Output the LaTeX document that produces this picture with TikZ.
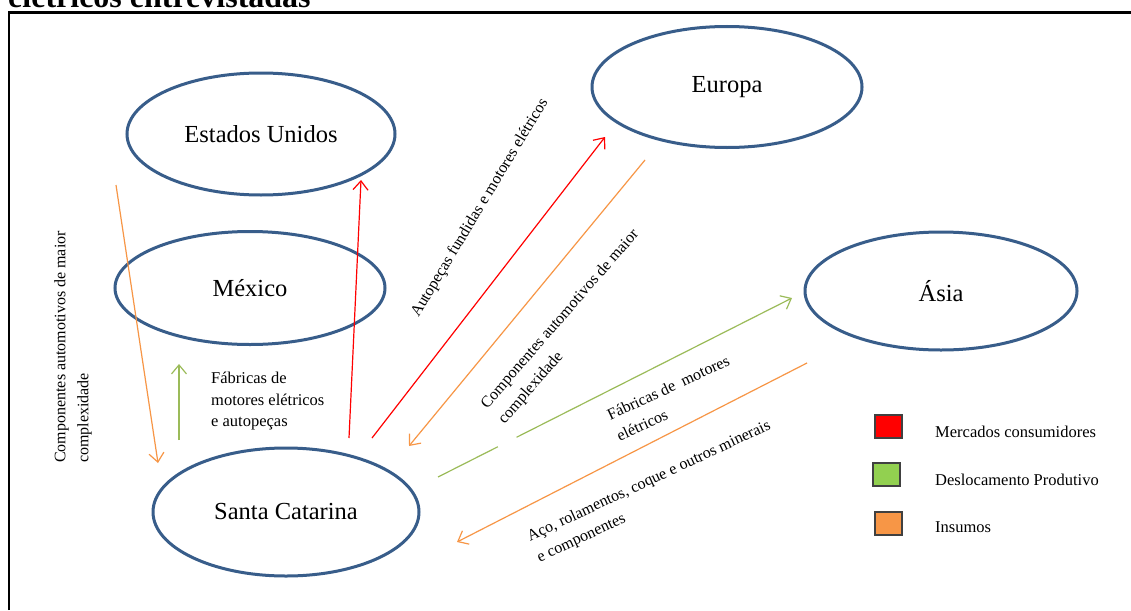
\documentclass[tikz,border=0pt]{standalone}
\usepackage{fontspec}
\setmainfont{Liberation Serif}
\usetikzlibrary{shapes.geometric,arrows.meta}
\definecolor{ellblue}{HTML}{385D8A}
\definecolor{ored}{HTML}{FF0000}
\definecolor{ogreen}{HTML}{9BBB59}
\definecolor{oorange}{HTML}{F79646}
\definecolor{lgreen}{HTML}{92D050}
\begin{document}
\begin{tikzpicture}[x=1pt,y=-1pt,
  place/.style={ellipse, draw=ellblue, line width=3pt, inner sep=0pt, font=\fontsize{24.5}{28}\selectfont},
  lbl/.style={font=\fontsize{16}{23}\selectfont, align=left, inner sep=0pt},
  flow/.style={line width=1.2pt, -{Straight Barb[length=9pt,width=15pt]}},
  legbox/.style={draw=black!75, line width=1.5pt, minimum width=27pt, minimum height=23pt, inner sep=0pt},
  legtext/.style={anchor=west, inner sep=0pt, font=\fontsize{16.5}{19}\selectfont}]
\useasboundingbox (0,0) rectangle (1131,610);
\clip (0,0) rectangle (1131,610);
\fill[white] (0,0) rectangle (1131,610);
% title (cut off)
\node[anchor=base west, inner sep=0pt, font=\bfseries\fontsize{32}{36}\selectfont] (title) at (8,7.5) {elétricos entrevistadas};
% frame
\coordinate (fr1) at (9,610);
\coordinate (fr2) at (9,12.5);
\coordinate (fr3) at (1131,12.5);
\draw[line width=2.5pt] (fr1) -- (fr2) -- (fr3);
% places
\node[place, minimum width=268pt, minimum height=122pt] (eua) at (261,134) {Estados Unidos};
\node[place, minimum width=270pt, minimum height=113pt] (mex) at (250,288) {México};
\node[place, minimum width=270pt, minimum height=121pt] (eur) at (727,87) {Europa};
\node[place, minimum width=272pt, minimum height=118pt] (asia) at (941,291) {Ásia};
\node[place, minimum width=266pt, minimum height=128pt] (sc) at (286,512) {Santa Catarina};
% arrow end points
\coordinate (c1s) at (116,185);  \coordinate (c1e) at (158,463);
\coordinate (g1s) at (179,440);  \coordinate (g1e) at (179,364);
\coordinate (r1s) at (349,438);  \coordinate (r1e) at (361,180);
\coordinate (r2s) at (372,438);  \coordinate (r2e) at (605,137);
\coordinate (o2s) at (645,160);  \coordinate (o2e) at (409,446);
\coordinate (g2s) at (438,477);  \coordinate (g2e) at (792,298);
\coordinate (o3s) at (807,363);  \coordinate (o3e) at (457,542);
\draw[flow, oorange] (c1s) -- (c1e);
\draw[flow, ogreen] (g1s) -- (g1e);
\draw[flow, ored] (r1s) -- (r1e);
\draw[flow, ored] (r2s) -- (r2e);
\draw[flow, oorange] (o2s) -- (o2e);
\draw[flow, ogreen, dash pattern=on 67pt off 21pt on 500pt] (g2s) -- (g2e);
\draw[flow, oorange] (o3s) -- (o3e);
% labels
\node[lbl, rotate=90] (lab1) at (73,347) {Componentes automotivos de maior\\complexidade};
\node[lbl, anchor=north west, font=\fontsize{16.5}{21.5}\selectfont] (lab2) at (211,372) {Fábricas de\\motores elétricos\\e autopeças};
\node[lbl, rotate=59] (lab3) at (480,208) {Autopeças fundidas e motores elétricos};
\node[lbl, rotate=49] (lab4) at (569,327) {Componentes automotivos de maior\\complexidade};
\node[lbl, rotate=25] (lab5) at (673,398) {Fábricas de\ \ motores\\elétricos};
\node[lbl, rotate=25] (lab6) at (654,492) {Aço, rolamentos, coque e outros minerais\\e componentes};
% legend
\node[legbox, fill=ored] (lr) at (888.5,426.5) {};
\node[legbox, fill=lgreen] (lg) at (886.5,474.5) {};
\node[legbox, fill=oorange] (lo) at (888.5,523.5) {};
\node[legtext] (tr) at (935,432) {Mercados consumidores};
\node[legtext] (tg) at (935,480) {Deslocamento Produtivo};
\node[legtext] (to) at (935,527) {Insumos};
\end{tikzpicture}
\end{document}
